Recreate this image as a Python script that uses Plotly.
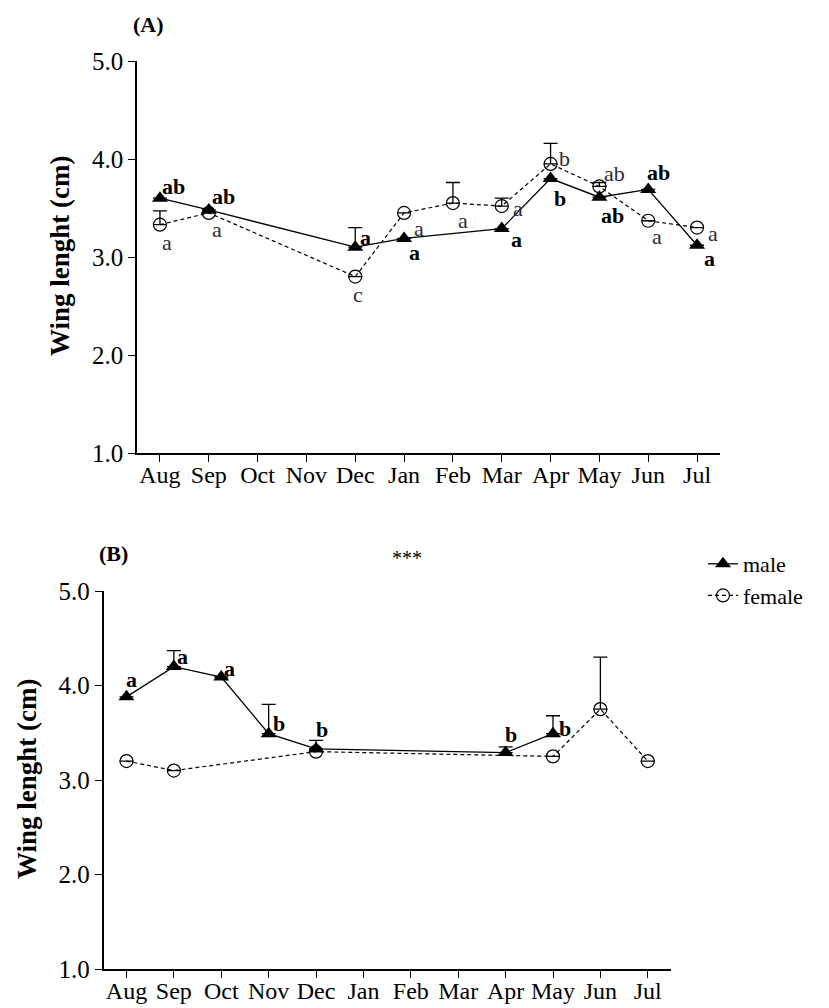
import plotly.graph_objects as go

months = ["Aug", "Sep", "Oct", "Nov", "Dec", "Jan", "Feb", "Mar", "Apr", "May", "Jun", "Jul"]

# Panel A
a_male_m = ["Aug", "Sep", "Dec", "Jan", "Mar", "Apr", "May", "Jun", "Jul"]
a_male_v = [3.60, 3.48, 3.10, 3.19, 3.29, 3.80, 3.61, 3.69, 3.12]
a_male_err = [None, None, 0.20, None, None, None, None, None, None]
a_male_lbl = ["ab", "ab", "a", "a", "a", "b", "ab", "ab", "a"]

a_fem_m = ["Aug", "Sep", "Dec", "Jan", "Feb", "Mar", "Apr", "May", "Jun", "Jul"]
a_fem_v = [3.33, 3.45, 2.80, 3.45, 3.55, 3.52, 3.95, 3.72, 3.37, 3.30]
a_fem_err = [0.14, None, None, None, 0.21, 0.08, 0.21, 0.04, None, None]
a_fem_lbl = ["a", "a", "c", "a", "a", "a", "b", "ab", "a", "a"]

# Panel B
b_male_m = ["Aug", "Sep", "Oct", "Nov", "Dec", "Apr", "May"]
b_male_v = [3.88, 4.20, 4.09, 3.49, 3.33, 3.29, 3.49]
b_male_err = [None, 0.17, None, 0.31, 0.09, 0.06, 0.19]
b_male_lbl = ["a", "a", "a", "b", "b", "b", "b"]

b_fem_m = ["Aug", "Sep", "Dec", "May", "Jun", "Jul"]
b_fem_v = [3.20, 3.10, 3.30, 3.25, 3.75, 3.20]
b_fem_err = [None, None, None, None, 0.55, None]

y_ticks = [1, 2, 3, 4, 5]
y_ticktext = ["1.0", "2.0", "3.0", "4.0", "5.0"]

FONT = "Liberation Serif"

# label offsets in pixels (dx, dy screen-down)
a_male_off = [(14, -12), (15, -13), (10, -10), (10, 14), (15, 11), (9, 20), (13, 18), (10, -17), (12, 13)]
a_fem_off = [(7, 18), (8, 17), (3, 18), (15, 16), (10, 17), (16, 2), (14, -5), (15, -13), (9, 16), (16, 6)]
b_male_off = [(5, -17), (9, -10), (8, -9), (10, -10), (6, -19), (5, -18), (12, -5)]

fig = go.Figure()


def add_pair(xa, ya, mm, mv, merr, fm, fv, ferr, legend):
    fig.add_trace(go.Scatter(
        x=fm, y=fv, mode="lines+markers", name="female", showlegend=legend,
        xaxis=xa, yaxis=ya,
        line=dict(color="black", width=1.2, dash="4px,3px"),
        marker=dict(symbol="circle-open", size=13, color="black", line=dict(width=1.2)),
        error_y=dict(type="data", symmetric=False, array=ferr, arrayminus=[0] * len(ferr),
                     color="black", thickness=1.3, width=7),
    ))
    fig.add_trace(go.Scatter(
        x=mm, y=mv, mode="lines+markers", name="male", showlegend=legend,
        xaxis=xa, yaxis=ya,
        line=dict(color="black", width=1.3),
        marker=dict(symbol="triangle-up", size=14, color="black"),
        error_y=dict(type="data", symmetric=False, array=merr, arrayminus=[0] * len(merr),
                     color="black", thickness=1.3, width=7),
    ))


add_pair("x", "y", a_male_m, a_male_v, a_male_err, a_fem_m, a_fem_v, a_fem_err, False)
add_pair("x2", "y2", b_male_m, b_male_v, b_male_err, b_fem_m, b_fem_v, b_fem_err, True)

ann = []


def add_labels(xr, yr, mm, mv, lbls, offs, bold, color):
    for m, v, t, (dx, dy) in zip(mm, mv, lbls, offs):
        ann.append(dict(x=m, y=v, xref=xr, yref=yr, text=("<b>%s</b>" % t) if bold else t,
                        showarrow=False, xshift=dx, yshift=-dy, xanchor="center", yanchor="middle",
                        font=dict(family=FONT, size=22, color=color)))


add_labels("x", "y", a_male_m, a_male_v, a_male_lbl, a_male_off, True, "black")
add_labels("x", "y", a_fem_m, a_fem_v, a_fem_lbl, a_fem_off, False, "#2b2b3a")
add_labels("x2", "y2", b_male_m, b_male_v, b_male_lbl, b_male_off, True, "black")

W, H = 829, 1008


def px(xp):
    return xp / W


def py(yp):
    return 1 - yp / H


def pann(x, y, text, size, angle=0):
    return dict(x=px(x), y=py(y), xref="paper", yref="paper", text=text, showarrow=False,
                xanchor="center", yanchor="middle", textangle=angle,
                font=dict(family=FONT, size=size, color="black"))


ann += [
    pann(148, 24, "<b>(A)</b>", 22),
    pann(113, 553, "<b>(B)</b>", 22),
    pann(407, 558, "***", 20),
    pann(60, 256, "<b>Wing lenght (cm)</b>", 27, -90),
    pann(27, 779, "<b>Wing lenght (cm)</b>", 27, -90),
]

xcommon = dict(type="category", categoryorder="array", categoryarray=months,
               tickvals=months, ticktext=months, showline=True, linecolor="black", linewidth=1.5,
               ticks="outside", ticklen=7, tickwidth=1.3, tickcolor="black", showgrid=False,
               zeroline=False, automargin=False, ticklabelstandoff=-8,
               tickfont=dict(family=FONT, size=24, color="black"))
ycommon = dict(range=[1, 5], tickvals=y_ticks, ticktext=y_ticktext, showline=True, linecolor="black",
               linewidth=1.5, ticks="outside", ticklen=7, tickwidth=1.3, tickcolor="black",
               showgrid=False, zeroline=False, automargin=False,
               tickfont=dict(family=FONT, size=25, color="black"))

fig.update_layout(
    template="none",
    width=W, height=H, margin=dict(l=0, r=0, t=0, b=0, autoexpand=False),
    paper_bgcolor="white", plot_bgcolor="white",
    xaxis=dict(domain=[px(137), px(720)], range=[-0.47, 11.47], anchor="y", **xcommon),
    yaxis=dict(domain=[py(453), py(61)], anchor="x", **ycommon),
    xaxis2=dict(domain=[px(103.5), px(671)], range=[-0.485, 11.49], anchor="y2", **xcommon),
    yaxis2=dict(domain=[py(969), py(591)], anchor="x2", **ycommon),
    annotations=ann,
    legend=dict(x=px(703), y=py(543), xanchor="left", yanchor="top", bgcolor="rgba(0,0,0,0)",
                traceorder="reversed", borderwidth=0, itemwidth=30, tracegroupgap=0,
                font=dict(family=FONT, size=22, color="black")),
    showlegend=True,
)

fig.write_html("out.html", post_script="document.body.style.margin='0px';",
               config={"displayModeBar": False})
